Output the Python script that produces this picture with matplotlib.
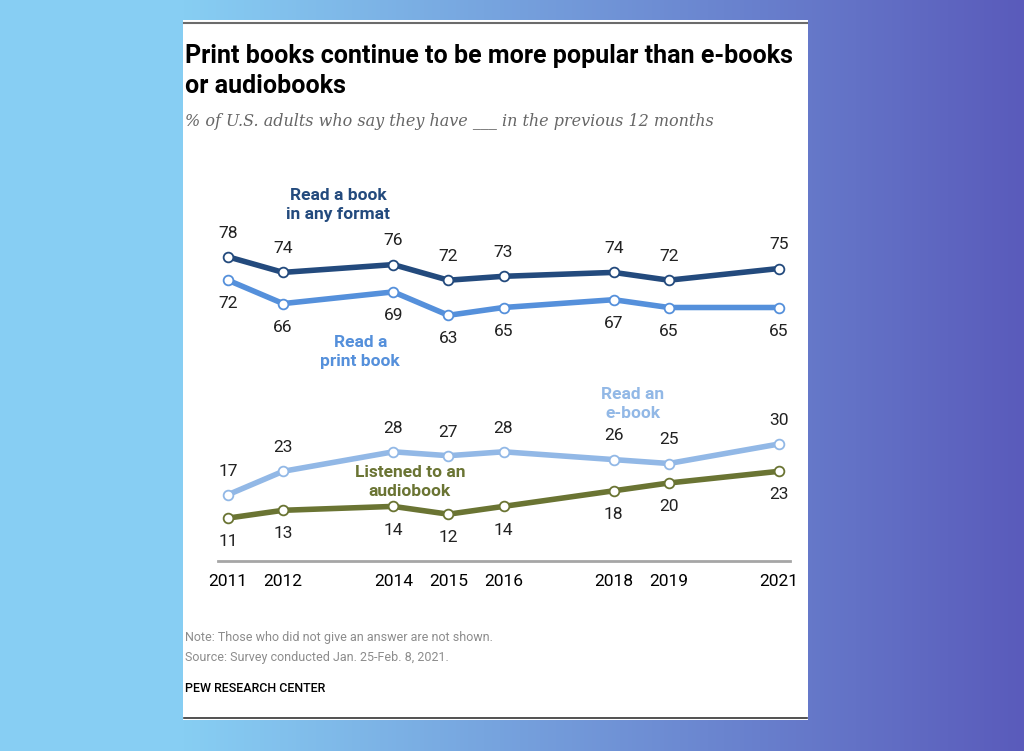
import matplotlib
matplotlib.use("Agg")
import matplotlib.pyplot as plt
import numpy as np
from matplotlib.colors import LinearSegmentedColormap
from matplotlib.patches import Rectangle

years = [2011, 2012, 2014, 2015, 2016, 2018, 2019, 2021]
any_format = [78, 74, 76, 72, 73, 74, 72, 75]
print_book = [72, 66, 69, 63, 65, 67, 65, 65]
ebook = [17, 23, 28, 27, 28, 26, 25, 30]
audiobook = [11, 13, 14, 12, 14, 18, 20, 23]

c_any = "#234a7d"
c_print = "#5590db"
c_ebook = "#92b8e6"
c_audio = "#6a7433"

W, H = 1024, 751
fig = plt.figure(figsize=(W / 100, H / 100), dpi=100)

# gradient background
bg = fig.add_axes([0, 0, 1, 1])
cmap = LinearSegmentedColormap.from_list("bg", [(0, "#87cef3"), (0.18, "#87cef3"), (1, "#5a5bbb")])
bg.imshow(np.linspace(0, 1, 512)[None, :], aspect="auto", cmap=cmap, extent=[0, W, 0, H])
bg.set_xlim(0, W)
bg.set_ylim(H, 0)
bg.axis("off")

# white card
bg.add_patch(Rectangle((183, 20), 625, 700, facecolor="white", edgecolor="none"))
bg.plot([184, 807], [23, 23], color="#6b6b6b", lw=1.5)
bg.plot([184, 807], [718, 718], color="#333333", lw=1.2)

sans = ["Roboto", "DejaVu Sans"]
bg.text(185, 56, "Print books continue to be more popular than e-books", fontsize=18, fontweight="bold",
        family=sans, va="center", ha="left", color="black")
bg.text(185, 86, "or audiobooks", fontsize=18, fontweight="bold", family=sans, va="center", ha="left")
bg.text(185, 121, "% of U.S. adults who say they have ___ in the previous 12 months", fontsize=11.5,
        family=["DejaVu Serif"], style="italic", color="#666666", va="center", ha="left")

bg.text(185, 638, "Note: Those who did not give an answer are not shown.", fontsize=9, family=sans,
        color="#8c8c8c", va="center")
bg.text(185, 658, "Source: Survey conducted Jan. 25-Feb. 8, 2021.", fontsize=9, family=sans,
        color="#8c8c8c", va="center")
bg.text(185, 688, "PEW RESEARCH CENTER", fontsize=9, fontweight="medium", family=sans, color="black",
        va="center")

# chart axes (pixel placement)
px_per_year = 55.1
px_per_pt = 3.9
left_px, right_px, bottom_px, top_px = 218, 790, 190, 510
ax = fig.add_axes([left_px / W, bottom_px / H, (right_px - left_px) / W, (top_px - bottom_px) / H])
ax.set_xlim(2011 - (228 - left_px) / px_per_year, 2011 + (right_px - 228) / px_per_year)
ax.set_ylim(0, (top_px - bottom_px) / px_per_pt)
ax.patch.set_alpha(0)
for s in ["top", "right", "left"]:
    ax.spines[s].set_visible(False)
ax.spines["bottom"].set_color("#a6a6a6")
ax.spines["bottom"].set_linewidth(2)
ax.set_yticks([])
ax.set_xticks(years)
ax.set_xticklabels([str(y) for y in years], family=sans, fontsize=12.5, color="black")
ax.tick_params(axis="x", length=0, pad=9)

series = [(any_format, c_any, 1), (print_book, c_print, -1), (ebook, c_ebook, 1), (audiobook, c_audio, -1)]
for vals, col, side in series:
    ax.plot(years, vals, color=col, lw=4, marker="o", ms=7, mfc="white", mec=col, mew=1.3,
            solid_capstyle="round", zorder=3)
    for x, v in zip(years, vals):
        ax.annotate(str(v), (x, v), xytext=(0, 17 * side), textcoords="offset points",
                    ha="center", va="center", fontsize=12.5, family=sans, color="#222222")

def series_label(x, y, txt, col):
    ax.text(x, y, txt, ha="center", va="center", fontsize=12.5, fontweight="bold", family=sans,
            color=col, linespacing=1.4, clip_on=False)

series_label(2013.0, (561 - 205) / px_per_pt, "Read a book\nin any format", c_any)
series_label(2013.4, (561 - 352) / px_per_pt, "Read a\nprint book", c_print)
series_label(2018.35, (561 - 404) / px_per_pt, "Read an\ne-book", c_ebook)
series_label(2014.3, (561 - 482) / px_per_pt, "Listened to an\naudiobook", c_audio)

fig.savefig("out.png", dpi=100)
